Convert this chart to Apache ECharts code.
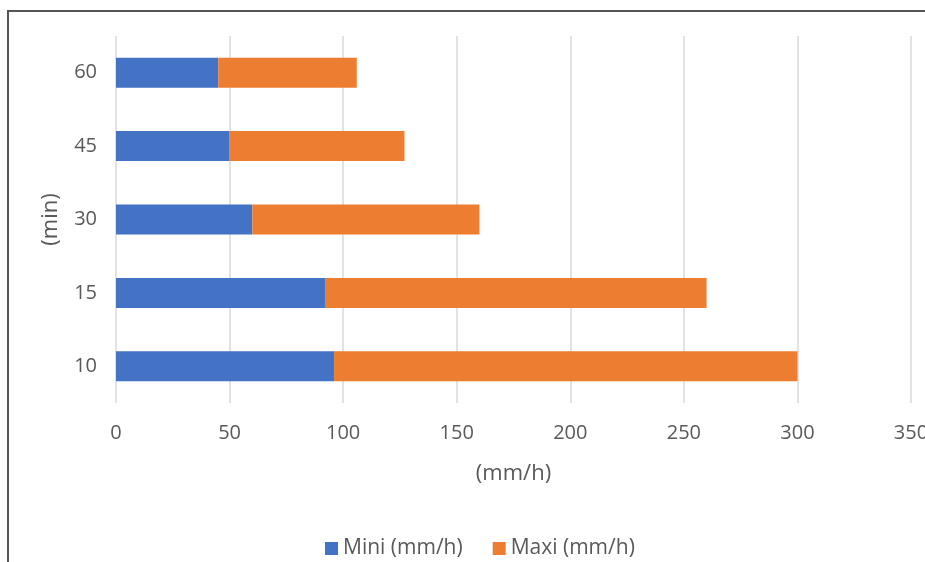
<!DOCTYPE html>
<html><head><meta charset="utf-8">
<script src="https://cdn.jsdelivr.net/npm/echarts@6/dist/echarts.min.js"></script>
<style>html,body{margin:0;padding:0;background:#fff}#c{width:925px;height:562px}</style>
</head><body><div id="c"></div>
<script>
var categories = ['10', '15', '30', '45', '60'];
var miniValues = [96, 92, 60, 50, 45];
var maxiValues = [204, 168, 100, 77, 61];
var xTicks = { min: 0, max: 350, interval: 50 };

var font = '"Open Sans", "Noto Sans", sans-serif';
var chart = echarts.init(document.getElementById('c'));
chart.setOption({
  animation: false,
  textStyle: { fontFamily: font },
  graphic: [{ type: 'rect', shape: { x: 8, y: 11, width: 1000, height: 1000 }, style: { fill: 'none', stroke: '#555', lineWidth: 2 } }],
  grid: { left: 116, right: 14, top: 36, bottom: 159, containLabel: false, outerBoundsMode: 'none' },
  legend: {
    left: 320, top: 533, itemWidth: 13, itemHeight: 13, itemGap: 30, icon: 'rect',
    textStyle: { color: '#595959', fontSize: 21, fontFamily: font },
    data: ['Mini (mm/h)', 'Maxi (mm/h)']
  },
  xAxis: {
    type: 'value', min: xTicks.min, max: xTicks.max, interval: xTicks.interval,
    name: '(mm/h)', nameLocation: 'middle', nameGap: 60,
    nameTextStyle: { color: '#595959', fontSize: 22, fontFamily: font },
    axisLine: { show: false }, axisTick: { show: false },
    axisLabel: { color: '#595959', fontSize: 20, margin: 20, fontFamily: font },
    splitLine: { lineStyle: { color: '#d9d9d9', width: 1.5 } }
  },
  yAxis: {
    type: 'category', data: categories,
    name: '(min)', nameLocation: 'middle', nameGap: 54,
    nameTextStyle: { color: '#595959', fontSize: 22, fontFamily: font },
    axisLine: { show: false }, axisTick: { show: false },
    axisLabel: { color: '#595959', fontSize: 20, margin: 19, fontFamily: font }
  },
  series: [
    { name: 'Mini (mm/h)', type: 'bar', stack: 's', data: miniValues, barWidth: 30, itemStyle: { color: '#4472C4' } },
    { name: 'Maxi (mm/h)', type: 'bar', stack: 's', data: maxiValues, barWidth: 30, itemStyle: { color: '#ED7D31' } }
  ]
});
</script></body></html>
